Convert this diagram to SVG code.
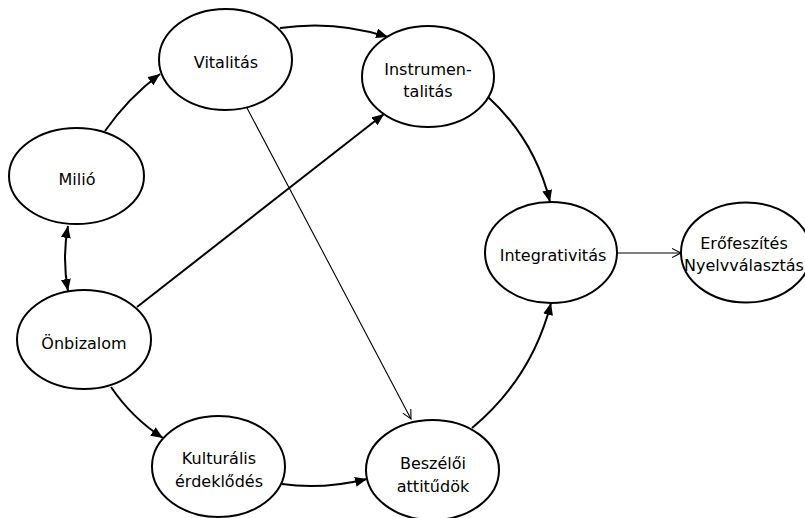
<svg xmlns="http://www.w3.org/2000/svg" width="805" height="518" viewBox="0 0 805 518">
<style>
.n ellipse{fill:#fff;stroke:#000;stroke-width:2}
.n text{font-family:"DejaVu Sans","Liberation Sans",sans-serif;font-size:16px;fill:#000;text-anchor:middle}
.e path{fill:none;stroke:#000;stroke-width:2}
.e path.t{stroke-width:1.1}
</style>
<defs>
<marker id="a" markerUnits="userSpaceOnUse" markerWidth="14" markerHeight="12" refX="12" refY="5" orient="auto-start-reverse"><path d="M0,0 L12,5 L0,10z" fill="#000"/></marker>
<marker id="o" markerUnits="userSpaceOnUse" markerWidth="12" markerHeight="12" refX="9" refY="5" orient="auto"><path d="M0,0.5 L9,5 L0,9.5" fill="none" stroke="#000" stroke-width="1.1"/></marker>
</defs>
<rect width="805" height="518" fill="#fff"/>
<g class="e" id="edges">
<path d="M105,131 Q128,98 160,74" marker-end="url(#a)"/>
<path d="M280,28 Q335,20 388,37" marker-end="url(#a)"/>
<path d="M68,226 Q62,258 68,291" marker-start="url(#a)" marker-end="url(#a)"/>
<path d="M137,307 L384,114" marker-end="url(#a)"/>
<path class="t" d="M247,108 L411,419" marker-end="url(#o)"/>
<path d="M111,387 Q132,418 163,438" marker-end="url(#a)"/>
<path d="M282,484 Q322,490 367,479" marker-end="url(#a)"/>
<path d="M472,428 Q532,378 551,303" marker-end="url(#a)"/>
<path d="M488,97 Q535,140 550,202" marker-end="url(#a)"/>
<path class="t" d="M617,253 L681,253" marker-end="url(#o)"/>
</g>
<g class="n" id="vitalitas"><ellipse cx="225.5" cy="59.5" rx="66.5" ry="50.5"/><text x="226" y="68">Vitalitás</text></g>
<g class="n" id="instrumentalitas"><ellipse cx="428" cy="76.5" rx="66" ry="50.5"/><text x="428" y="75">Instrumen-</text><text x="428" y="97">talitás</text></g>
<g class="n" id="milio"><ellipse cx="76.5" cy="176" rx="67.5" ry="48"/><text x="77" y="185">Milió</text></g>
<g class="n" id="onbizalom"><ellipse cx="84" cy="339.5" rx="67" ry="49.5"/><text x="84" y="349">Önbizalom</text></g>
<g class="n" id="kulturalis"><ellipse cx="218.5" cy="466.5" rx="66.5" ry="50.5"/><text x="219" y="464">Kulturális</text><text x="219" y="487">érdeklődés</text></g>
<g class="n" id="beszeloi"><ellipse cx="432.5" cy="470" rx="66.5" ry="50"/><text x="433" y="469">Beszélői</text><text x="433" y="492">attitűdök</text></g>
<g class="n" id="integrativitas"><ellipse cx="551" cy="252.5" rx="66" ry="50.5"/><text x="553" y="261">Integrativitás</text></g>
<g class="n" id="erofeszites"><ellipse cx="746" cy="252.5" rx="65" ry="50"/><text x="744" y="249">Erőfeszítés</text><text x="744" y="271">Nyelvválasztás</text></g>
</svg>
